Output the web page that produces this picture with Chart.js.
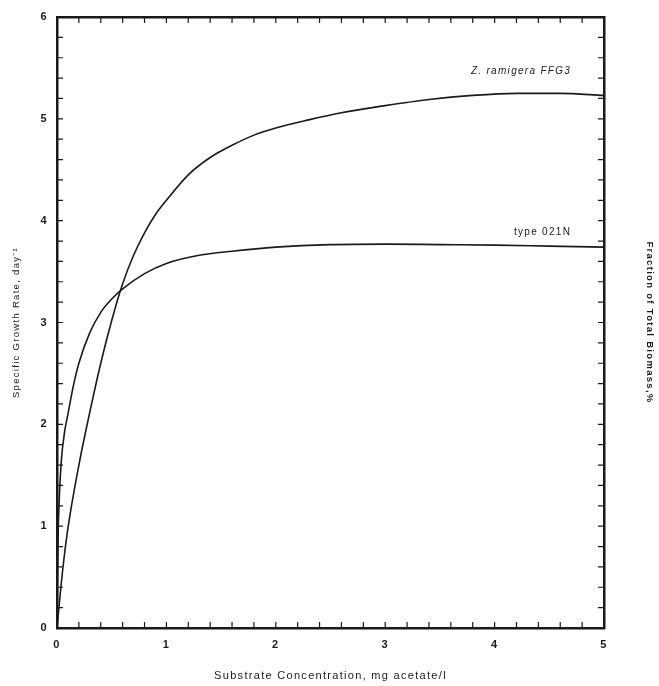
<!DOCTYPE html>
<html>
<head>
<meta charset="utf-8">
<script src="https://cdn.jsdelivr.net/npm/chart.js@4/dist/chart.umd.min.js"></script>
<style>
  html, body { margin: 0; padding: 0; background: #ffffff; }
  #wrap { width: 659px; height: 686px; position: relative; }
</style>
</head>
<body>
<div id="wrap"><canvas id="c" width="659" height="686"></canvas></div>
<script>
// ---- data ----
const ramigeraX = [0, 0.05, 0.1, 0.2, 0.3, 0.4, 0.5, 0.6, 0.7, 0.8, 0.9, 1.0, 1.2, 1.4, 1.6, 1.8, 2.0, 2.3, 2.6, 3.0, 3.4, 3.8, 4.2, 4.6, 5.0];
const ramigeraY = [0, 0.55, 0.98, 1.6, 2.12, 2.6, 3.02, 3.38, 3.66, 3.88, 4.06, 4.2, 4.45, 4.62, 4.74, 4.84, 4.91, 4.99, 5.06, 5.13, 5.19, 5.23, 5.25, 5.25, 5.23];
const type021NX = [0, 0.01, 0.02, 0.04, 0.07, 0.1, 0.15, 0.2, 0.3, 0.4, 0.5, 0.6, 0.8, 1.0, 1.3, 1.6, 2.0, 2.5, 3.0, 3.5, 4.0, 4.5, 5.0];
const type021NY = [0, 0.9, 1.25, 1.65, 1.93, 2.1, 2.38, 2.6, 2.9, 3.1, 3.23, 3.33, 3.48, 3.58, 3.66, 3.7, 3.74, 3.765, 3.77, 3.765, 3.76, 3.75, 3.74];
const seriesNames = ['Z. ramigera FFG3', 'type 021N'];
const xTickLabels = ['0', '1', '2', '3', '4', '5'];
const yTickLabels = ['0', '1', '2', '3', '4', '5', '6'];
const xTitle = 'Substrate Concentration, mg acetate/l';
const yTitle = 'Specific Growth Rate, day\u207B\u00B9';
const y2Title = 'Fraction of Total Biomass,%';

const toPts = (xs, ys) => xs.map((x, i) => ({ x: x, y: ys[i] }));
const INK = '#1a1a1a';
const FONT = "'Liberation Sans', Arial, sans-serif";

function intLabel(labels) {
  return function (v) {
    const r = Math.round(v);
    return Math.abs(v - r) < 1e-6 && labels[r] !== undefined ? labels[r] : '';
  };
}

const spacing = {
  id: 'spacing',
  beforeDraw(chart) { chart.ctx.letterSpacing = '1.3px'; }
};

const inwardTicks = {
  id: 'inwardTicks',
  afterDraw(chart) {
    const ctx = chart.ctx;
    const a = chart.chartArea;
    const L = 6;
    ctx.save();
    ctx.strokeStyle = INK;
    ctx.lineWidth = 1.2;
    ctx.beginPath();
    ['x', 'x2'].forEach(id => {
      const s = chart.scales[id];
      s.ticks.forEach(t => {
        const p = s.getPixelForValue(t.value);
        if (id === 'x') { ctx.moveTo(p, a.bottom); ctx.lineTo(p, a.bottom - L); }
        else { ctx.moveTo(p, a.top); ctx.lineTo(p, a.top + L); }
      });
    });
    ['y', 'y2'].forEach(id => {
      const s = chart.scales[id];
      s.ticks.forEach(t => {
        const p = s.getPixelForValue(t.value);
        if (id === 'y') { ctx.moveTo(a.left, p); ctx.lineTo(a.left + L, p); }
        else { ctx.moveTo(a.right, p); ctx.lineTo(a.right - L, p); }
      });
    });
    ctx.stroke();
    ctx.restore();
  }
};

const curveLabels = {
  id: 'curveLabels',
  afterDatasetsDraw(chart) {
    const ctx = chart.ctx;
    const xs = chart.scales.x, ys = chart.scales.y;
    ctx.save();
    ctx.letterSpacing = '1.3px';
    ctx.fillStyle = INK;
    ctx.textAlign = 'right';
    ctx.textBaseline = 'middle';
    ctx.font = 'italic 10px ' + FONT;
    ctx.fillText(seriesNames[0], xs.getPixelForValue(4.7), ys.getPixelForValue(5.47));
    ctx.font = '10px ' + FONT;
    ctx.fillText(seriesNames[1], xs.getPixelForValue(4.7), ys.getPixelForValue(3.89));
    ctx.restore();
  }
};

const border = { display: true, color: INK, width: 2.5 };
const noGrid = { display: false, drawTicks: false };

new Chart(document.getElementById('c'), {
  type: 'scatter',
  data: {
    datasets: [
      { label: seriesNames[0], data: toPts(ramigeraX, ramigeraY), showLine: true,
        borderColor: INK, borderWidth: 1.6, pointRadius: 0, cubicInterpolationMode: 'monotone', fill: false },
      { label: seriesNames[1], data: toPts(type021NX, type021NY), showLine: true,
        borderColor: INK, borderWidth: 1.6, pointRadius: 0, cubicInterpolationMode: 'monotone', fill: false }
    ]
  },
  options: {
    responsive: false,
    animation: false,
    devicePixelRatio: 1,
    layout: { padding: 0 },
    plugins: { legend: { display: false }, tooltip: { enabled: false } },
    scales: {
      x: {
        type: 'linear', position: 'bottom', min: 0, max: 5,
        grid: noGrid, border: border,
        ticks: { stepSize: 0.2, autoSkip: false, maxRotation: 0, padding: 10, color: INK,
                 font: { family: FONT, size: 11, weight: 'bold' }, callback: intLabel(xTickLabels) },
        title: { display: true, text: xTitle, color: INK, font: { family: FONT, size: 11 }, padding: { top: 0, bottom: 3 } },
        afterFit: s => { s.height = 58; }
      },
      x2: {
        type: 'linear', position: 'top', min: 0, max: 5,
        grid: noGrid, border: border,
        ticks: { stepSize: 0.2, autoSkip: false, display: true, callback: () => '', padding: 0 },
        afterFit: s => { s.height = 17; }
      },
      y: {
        type: 'linear', position: 'left', min: 0, max: 6,
        grid: noGrid, border: border,
        ticks: { stepSize: 0.2, autoSkip: false, padding: 9, color: INK,
                 font: { family: FONT, size: 11, weight: 'bold' }, callback: intLabel(yTickLabels) },
        title: { display: true, text: yTitle, color: INK, font: { family: FONT, size: 9.5 }, padding: { top: 11, bottom: 0 } },
        afterFit: s => { s.width = 57; }
      },
      y2: {
        type: 'linear', position: 'right', min: 0, max: 6,
        grid: noGrid, border: border,
        ticks: { stepSize: 0.2, autoSkip: false, display: true, callback: () => '', padding: 0 },
        title: { display: true, text: y2Title, color: INK, font: { family: FONT, size: 9.5, weight: 'bold' }, padding: { top: 3.5, bottom: 0 } },
        afterFit: s => { s.width = 55; }
      }
    }
  },
  plugins: [spacing, inwardTicks, curveLabels]
});
</script>
</body>
</html>
